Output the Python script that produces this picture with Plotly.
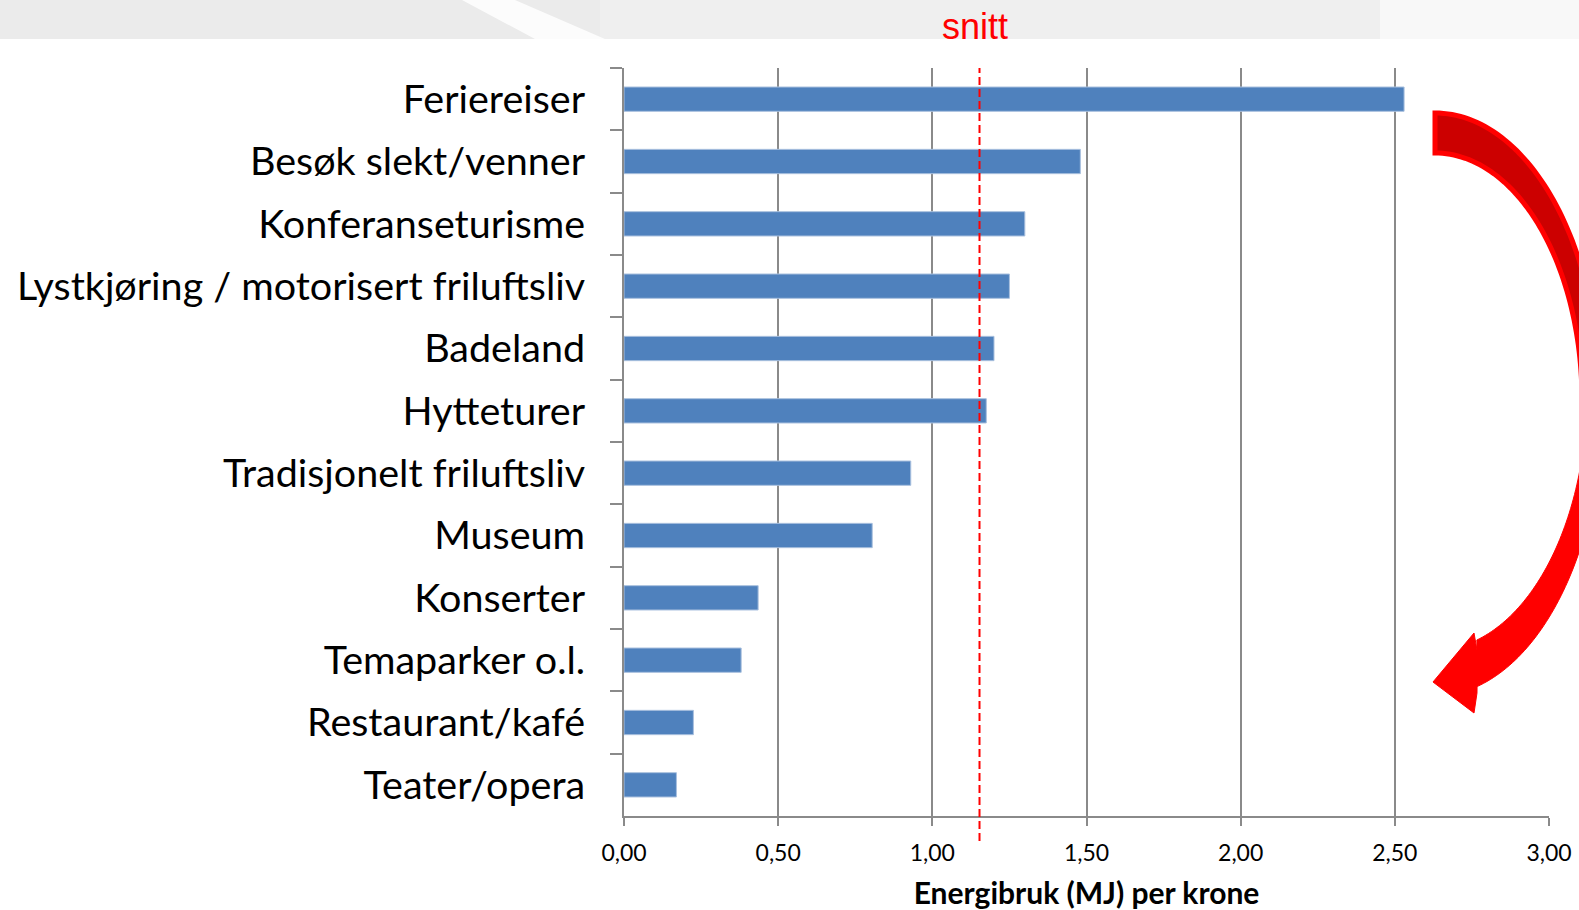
import math
import plotly.graph_objects as go

# ---------------- data ----------------
categories = [
    "Feriereiser",
    "Besøk slekt/venner",
    "Konferanseturisme",
    "Lystkjøring / motorisert friluftsliv",
    "Badeland",
    "Hytteturer",
    "Tradisjonelt friluftsliv",
    "Museum",
    "Konserter",
    "Temaparker o.l.",
    "Restaurant/kafé",
    "Teater/opera",
]
values = [2.53, 1.48, 1.30, 1.25, 1.20, 1.175, 0.93, 0.805, 0.435, 0.38, 0.225, 0.17]
average = 1.153
x_tickvals = [0, 0.5, 1.0, 1.5, 2.0, 2.5, 3.0]
x_ticktext = ["0,00", "0,50", "1,00", "1,50", "2,00", "2,50", "3,00"]
x_title = "Energibruk (MJ) per krone"
avg_label = "snitt"

# ---------------- layout geometry ----------------
W, H = 1579, 910
ML, MR, MT, MB = 624, 30, 68, 94
PW, PH = W - ML - MR, H - MT - MB


def px(x, y):
    """pixel -> paper coords (for decorative shapes)"""
    return (x - ML) / PW, (H - MB - y) / PH


def path_from(points, close=True):
    s = ""
    for i, (x, y) in enumerate(points):
        X, Y = px(x, y)
        s += ("M" if i == 0 else "L") + f"{X:.5f},{Y:.5f} "
    return s + ("Z" if close else "")


def arc(cx, cy, rx, ry, a0, a1, n=60):
    pts = []
    for i in range(n + 1):
        a = math.radians(a0 + (a1 - a0) * i / n)
        pts.append((cx + rx * math.sin(a), cy - ry * math.cos(a)))
    return pts


grey = "#8a8a8a"
bar_color = "#4f81bd"
label_font = "Lato, Carlito, sans-serif"

fig = go.Figure()
fig.add_trace(go.Bar(
    x=values, y=categories, orientation="h",
    marker=dict(color=bar_color, line=dict(color="#a9c0de", width=1)),
    width=0.39, hoverinfo="x+y",
))

shapes = []
# top banner (textured grey band)
shapes.append(dict(type="rect", xref="paper", yref="paper",
                   x0=px(0, 0)[0], x1=px(W, 0)[0], y0=px(0, 39)[1], y1=px(0, 0)[1],
                   fillcolor="#ebebeb", line=dict(width=0), layer="above"))
shapes.append(dict(type="rect", xref="paper", yref="paper",
                   x0=px(600, 0)[0], x1=px(1380, 0)[0], y0=px(0, 39)[1], y1=px(0, 0)[1],
                   fillcolor="#efefef", line=dict(width=0), layer="above"))
shapes.append(dict(type="rect", xref="paper", yref="paper",
                   x0=px(1380, 0)[0], x1=px(W, 0)[0], y0=px(0, 39)[1], y1=px(0, 0)[1],
                   fillcolor="#f8f8f8", line=dict(width=0), layer="above"))
shapes.append(dict(type="path", xref="paper", yref="paper",
                   path=path_from([(462, 0), (515, 0), (605, 39), (535, 39)]),
                   fillcolor="#ffffff", opacity=0.85, line=dict(width=0), layer="above"))

# dashed average line
shapes.append(dict(type="line", xref="x", yref="paper",
                   x0=average, x1=average, y0=px(0, 841)[1], y1=px(0, 68)[1],
                   line=dict(color="#ff0000", width=2, dash="8px,4px"), layer="above"))

# curved arrow: upper (dark) part
cx, cy = 1435, 400
outer_up = arc(cx, cy, 165, 287, 0, 89)
inner_up = arc(cx, cy, 147, 247, 0, 89)
shapes.append(dict(type="path", xref="paper", yref="paper",
                   path=path_from(outer_up + inner_up[::-1]),
                   fillcolor="#cc0000", line=dict(color="#ff0000", width=5), layer="above"))
# lower (bright) part with head
inner_lo = arc(cx, cy - 8, 152, 258, 95, 164)
outer_lo = arc(cx, cy, 168, 296, 95, 165.5)
head = [(1477, 650), (1474, 633), (1433, 682), (1474, 713), (1477, 693)]
shapes.append(dict(type="path", xref="paper", yref="paper",
                   path=path_from(inner_lo + head + outer_lo[::-1]),
                   fillcolor="#ff0000", line=dict(color="#ff0000", width=1), layer="above"))

fig.update_layout(
    width=W, height=H, autosize=False,
    margin=dict(l=ML, r=MR, t=MT, b=MB, pad=0, autoexpand=False),
    paper_bgcolor="white", plot_bgcolor="white",
    showlegend=False, bargap=0.6,
    shapes=shapes,
    annotations=[dict(text=avg_label, xref="x", yref="paper", x=average - 0.015,
                      y=px(0, 27)[1], showarrow=False, xanchor="center", yanchor="middle",
                      font=dict(family="Liberation Sans Narrow, Liberation Sans, Arial",
                                size=36, color="#ff0000"))],
    xaxis=dict(range=[0, 3], tickvals=x_tickvals, ticktext=x_ticktext,
               automargin=False,
               showgrid=True, gridcolor=grey, gridwidth=2,
               showline=True, linecolor=grey, linewidth=2,
               ticks="outside", ticklen=8, tickwidth=2, tickcolor=grey,
               zeroline=False, ticklabelstandoff=7,
               tickfont=dict(family=label_font, size=23, color="#000"),
               title=dict(text="<b>" + x_title + "</b>", standoff=20,
                          font=dict(family=label_font, size=30, color="#000"))),
    yaxis=dict(type="category", categoryorder="array", categoryarray=categories,
               automargin=False,
               autorange="reversed", showgrid=False, zeroline=False,
               showline=True, linecolor=grey, linewidth=2,
               ticks="outside", tickson="boundaries", ticklen=12, tickwidth=2, tickcolor=grey,
               ticklabelstandoff=29,
               tickfont=dict(family=label_font, size=39.5, color="#000")),
)

fig.write_html("out.html", config={"displayModeBar": False},
               post_script="document.body.style.margin='0';document.body.style.overflow='hidden';")
